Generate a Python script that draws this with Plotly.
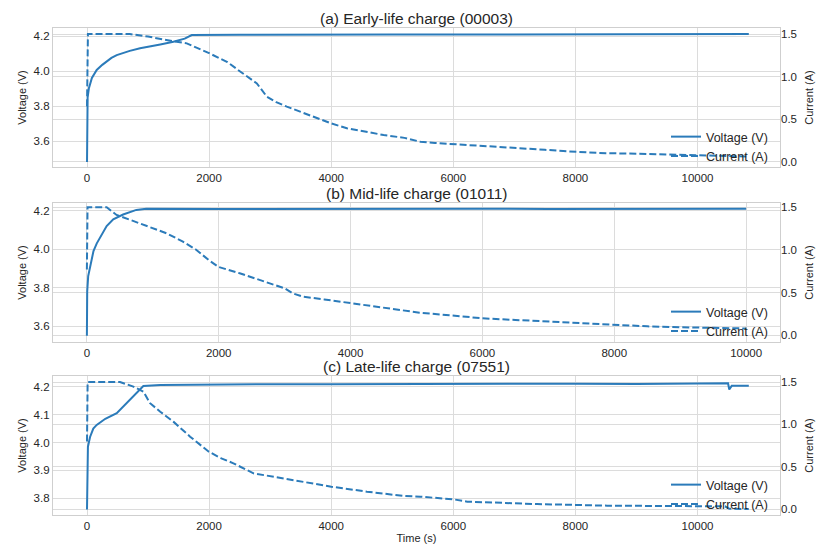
import plotly.graph_objects as go

# ---------------- data ----------------
titles = ["(a) Early-life charge (00003)", "(b) Mid-life charge (01011)", "(c) Late-life charge (07551)"]

t_va = [0, 2, 5, 10, 30, 80, 159, 250, 400, 487, 700, 869, 1200, 1415, 1600, 1716, 2500, 3000, 4000,
        5000, 6000, 7000, 8000, 9000, 9500, 10000, 10840]
v_a = [3.48, 3.70, 3.80, 3.85, 3.90, 3.96, 4.006, 4.035, 4.075, 4.091, 4.115, 4.13, 4.152, 4.167, 4.185,
       4.205, 4.207, 4.208, 4.207, 4.209, 4.208, 4.209, 4.207, 4.208, 4.209, 4.211, 4.212]
t_ia = [0, 15, 700, 1000, 1300, 1634, 2000, 2300, 2508, 2782, 2945, 3100, 3273, 3600, 4000, 4257, 4500,
        4858, 5200, 5459, 5700, 6000, 6500, 7000, 7500, 7800, 8000, 8500, 9000, 9500, 10000, 10400, 10840]
i_a = [0.65, 1.5, 1.5, 1.47, 1.43, 1.39, 1.275, 1.17, 1.06, 0.92, 0.765, 0.70, 0.647, 0.56, 0.45, 0.393,
       0.36, 0.314, 0.28, 0.235, 0.22, 0.208, 0.18, 0.16, 0.14, 0.125, 0.118, 0.10, 0.095, 0.085, 0.079,
       0.065, 0.06]

t_vb = [0, 5, 20, 50, 71, 100, 150, 200, 300, 400, 550, 750, 900, 2000, 3000, 4000, 5000, 6000, 7000,
        8000, 9000, 10000]
v_b = [3.55, 3.78, 3.86, 3.91, 3.93, 3.99, 4.03, 4.06, 4.12, 4.155, 4.18, 4.204, 4.21, 4.209, 4.21,
       4.209, 4.21, 4.21, 4.209, 4.21, 4.209, 4.21]
t_ib = [0, 10, 300, 450, 700, 955, 1207, 1450, 1662, 1850, 2000, 2318, 2600, 2823, 3000, 3126, 3278, 3600,
        4000, 4400, 4742, 5045, 5500, 6000, 6500, 7000, 7500, 8000, 8500, 9000, 9500, 10000]
i_b = [0.77, 1.5, 1.5, 1.41, 1.34, 1.27, 1.196, 1.10, 1.0, 0.88, 0.80, 0.727, 0.65, 0.59, 0.55, 0.49,
       0.452, 0.42, 0.375, 0.33, 0.297, 0.265, 0.235, 0.199, 0.18, 0.16, 0.14, 0.12, 0.105, 0.094, 0.085,
       0.08]

t_vc = [0, 5, 15, 50, 103, 159, 300, 487, 705, 923, 1200, 2000, 3000, 4000, 5000, 6000, 7000, 8000, 9000,
        10000, 10500, 10520, 10560, 10840]
v_c = [3.76, 3.90, 3.985, 4.02, 4.05, 4.063, 4.085, 4.105, 4.152, 4.2025, 4.206, 4.208, 4.209, 4.209,
       4.21, 4.21, 4.211, 4.211, 4.21, 4.211, 4.212, 4.19, 4.203, 4.203]
t_ic = [0, 10, 541, 759, 923, 1033, 1200, 1415, 1689, 1995, 2200, 2399, 2727, 3000, 3219, 3600, 4000,
        4585, 5188, 5460, 6000, 6229, 7372, 8519, 9500, 10450, 10520, 10840]
i_c = [0.8, 1.5, 1.5, 1.446, 1.387, 1.25, 1.15, 1.033, 0.856, 0.679, 0.60, 0.542, 0.424, 0.39, 0.366, 0.31,
       0.267, 0.208, 0.157, 0.149, 0.118, 0.09, 0.062, 0.043, 0.04, 0.035, 0.006, 0.004]

x_ranges = [[-557, 11351], [-514, 10514], [-557, 11351]]
v_ranges = [[3.4514, 4.2457], [3.517, 4.240], [3.7401, 4.2384]]
i_ranges = [[-0.062, 1.5705], [-0.0785, 1.55], [-0.067, 1.5707]]
v_dticks = [0.2, 0.2, 0.1]
x_ticks = [0, 2000, 4000, 6000, 8000, 10000]
x_ticklabels = ["0", "2000", "4000", "6000", "8000", "10000"]
i_ticks = [0.0, 0.5, 1.0, 1.5]

# ---------------- figure ----------------
W, H = 817, 544
L, R, T, B = 53, 37, 28, 29
ph = H - T - B
panels_px = [(28, 167), (203, 342), (376, 515)]
def ydom(top, bot):
    return [(H - B - bot) / ph, (H - B - top) / ph]

BLUE = "#2b7bba"
GRID = "#dcdcdc"
SPINE = "#cfcfcf"
TXT = "#262626"
FONT = "Liberation Sans, Arial, sans-serif"

fig = go.Figure()
series = [(t_va, v_a, t_ia, i_a), (t_vb, v_b, t_ib, i_b), (t_vc, v_c, t_ic, i_c)]

for k, (tv, vv, ti, ii) in enumerate(series):
    xa = "x" if k == 0 else f"x{k+1}"
    yl = "y" if k == 0 else f"y{2*k+1}"
    yr = f"y{2*k+2}"
    lg = "legend" if k == 0 else f"legend{k+1}"
    fig.add_trace(go.Scatter(x=tv, y=vv, xaxis=xa, yaxis=yl, mode="lines", name="Voltage (V)",
                             line=dict(color=BLUE, width=2), legend=lg))
    fig.add_trace(go.Scatter(x=ti, y=ii, xaxis=xa, yaxis=yr, mode="lines", name="Current (A)",
                             line=dict(color=BLUE, width=2, dash="7px,3px"), legend=lg))

layout = dict(width=W, height=H, margin=dict(l=L, r=R, t=T, b=B, autoexpand=False),
              paper_bgcolor="white", plot_bgcolor="white",
              font=dict(family=FONT, size=11, color=TXT), annotations=[])

TICKF = dict(size=11.5, color=TXT, family=FONT)
LABF = dict(size=11, color=TXT, family=FONT)

for k in range(3):
    top, bot = panels_px[k]
    dom = ydom(top, bot)
    xkey = "xaxis" if k == 0 else f"xaxis{k+1}"
    ylkey = "yaxis" if k == 0 else f"yaxis{2*k+1}"
    yrkey = f"yaxis{2*k+2}"
    yl_name = "y" if k == 0 else f"y{2*k+1}"
    x_name = "x" if k == 0 else f"x{k+1}"
    layout[xkey] = dict(domain=[0, 1], anchor=yl_name, range=x_ranges[k], tickvals=x_ticks,
                        ticktext=x_ticklabels, automargin=False,
                        showgrid=True, gridcolor=GRID, gridwidth=1, zeroline=False,
                        showline=True, linecolor=SPINE, linewidth=1.2, mirror=True,
                        ticks="", tickfont=TICKF,
                        title=dict(text="Time (s)" if k == 2 else "", font=LABF, standoff=12))
    layout[ylkey] = dict(domain=dom, anchor=x_name, range=v_ranges[k], dtick=v_dticks[k], tick0=3.0,
                         tickformat=".1f", showgrid=True, gridcolor=GRID, gridwidth=1, zeroline=False,
                         showline=True, linecolor=SPINE, linewidth=1.2, mirror=True, ticks="",
                         tickfont=TICKF, automargin=False,
                         title=dict(text="Voltage (V)", font=LABF, standoff=4))
    layout[yrkey] = dict(domain=dom, anchor=x_name, overlaying=yl_name, side="right", range=i_ranges[k],
                         tickvals=i_ticks, tickformat=".1f", showgrid=True, gridcolor=GRID, gridwidth=1,
                         zeroline=False, showline=False, ticks="",
                         tickfont=TICKF, automargin=False,
                         title=dict(text="Current (A)", font=LABF, standoff=9))
    lgkey = "legend" if k == 0 else f"legend{k+1}"
    layout[lgkey] = dict(x=(773 - L) / (W - L - R), xanchor="right",
                         y=(H - B - (bot + 4)) / ph, yanchor="bottom",
                         bgcolor="rgba(0,0,0,0)", borderwidth=0,
                         font=dict(size=12.5, color=TXT, family=FONT), tracegroupgap=0, itemwidth=30)
    layout["annotations"].append(dict(text=titles[k], xref="paper", yref="paper", x=0.5,
                                      y=dom[1], yanchor="bottom", xanchor="center", yshift=-1,
                                      showarrow=False, font=dict(size=15.5, color=TXT, family=FONT)))

fig.update_layout(**layout)
fig.write_html("out.html", config={"displayModeBar": False},
               post_script="document.body.style.margin='0';document.body.style.padding='0';")
